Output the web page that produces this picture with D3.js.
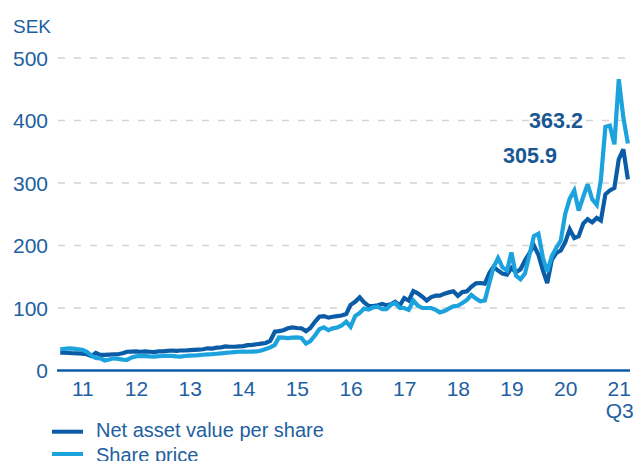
<!DOCTYPE html>
<html>
<head>
<meta charset="utf-8">
<script src="https://cdn.jsdelivr.net/npm/d3@7"></script>
<style>
  html, body { margin: 0; padding: 0; background: #ffffff; }
  svg { display: block; }
  text { font-family: "Liberation Sans", Arial, sans-serif; }
</style>
</head>
<body>
<script>
// ---- Data (monthly, Feb 2011 – Sep 2021) ----
const firstMonth = [2011, 1]; // year, month index (0 = Jan) of first point
const navValues = [
  28.7, 28.5, 28, 27.6, 27.5, 27, 26, 23, 28, 25,
  25, 25.5, 26, 26, 27.5, 30, 30.3, 30.5, 30, 30.5,
  30, 29.5, 30.5, 30.5, 31.5, 32, 31.5, 32, 32, 32.5,
  33, 33.5, 34, 35.5, 35, 36.5, 37, 38.5, 38, 38,
  38.5, 39, 40.5, 41, 42, 43, 44, 47.5, 62, 63,
  64.5, 67.5, 69, 68, 67.5, 63, 68, 78, 86, 87,
  84.5, 86, 87, 88, 90.5, 105, 110, 117, 109, 103.5,
  103, 104.5, 106.5, 104.5, 106, 110, 104, 116, 112, 127,
  123.5, 118, 112, 117.5, 119.8, 119.8, 123, 125, 126.7, 119.5,
  125.5, 126.7, 134, 139.5, 140, 139, 156, 166, 160, 155,
  153.5, 164, 157, 162, 176, 188, 200, 185, 160, 140,
  177, 188, 192, 205, 226, 212, 215, 235, 242, 237,
  244, 240, 282, 288, 292, 338, 354, 305.9
];
const priceValues = [
  34, 34.5, 35.5, 35, 34, 33, 30, 24, 20, 19.5,
  16, 17.5, 19.5, 18.5, 17.5, 17, 21, 22.5, 23.5, 23,
  22.5, 22.3, 22.8, 23.2, 23.5, 23.4, 22.5, 22.3, 23.2, 23.8,
  24, 24.5, 25.2, 25.8, 26.2, 26.8, 27.5, 28.2, 28.8, 29.5,
  30, 30.3, 30, 30.3, 30.5, 32, 34.5, 37, 41, 53,
  52.5, 51.7, 52.5, 53, 52, 43, 47, 56, 66, 69,
  64.5, 67.5, 68.8, 72, 78, 70, 87, 92, 99, 97.5,
  101, 102, 98, 98, 105, 108, 100, 100, 97, 112,
  104, 100, 100, 100, 97, 93, 95, 99, 102.6, 103.5,
  108, 113, 121, 115, 110.6, 112, 140, 165, 180, 165,
  160, 189, 152, 146, 155, 185, 215, 219, 180, 158,
  183, 196, 208, 250, 275, 288, 256, 278, 298, 274,
  265, 305, 390, 392, 362, 466, 405, 363.2
];
const yTicks = [0, 100, 200, 300, 400, 500];
const yearTicks = [2011, 2012, 2013, 2014, 2015, 2016, 2017, 2018, 2019, 2020, 2021];
const lastPeriodLabel = "Q3";
const unitLabel = "SEK";
const seriesNames = ["Net asset value per share", "Share price"];
const endLabels = ["305.9", "363.2"];

// ---- Styles ----
const W = 634, H = 461;
const darkBlue = "#0b5ca6";
const lightBlue = "#1ca2dc";
const textBlue = "#22609f";
const labelBlue = "#1a5792";

const svg = d3.select("body").append("svg").attr("width", W).attr("height", H);

const dates = navValues.map((_, i) => new Date(firstMonth[0], firstMonth[1] + i, 1));

const x = d3.scaleTime()
  .domain([new Date(2011, 0, 1), new Date(2022, 0, 1)])
  .range([55.7, 645.8]);
const y = d3.scaleLinear().domain([0, 500]).range([370.5, 58]);

// grid lines
svg.append("g").selectAll("line")
  .data(yTicks.filter(d => d > 0))
  .join("line")
  .attr("x1", 58).attr("x2", 632)
  .attr("y1", d => y(d)).attr("y2", d => y(d))
  .attr("stroke", "#d4d4d4").attr("stroke-width", 1.4)
  .attr("stroke-dasharray", "7,9");

// y labels
svg.append("g").selectAll("text")
  .data(yTicks)
  .join("text")
  .attr("x", 48).attr("y", d => y(d) + 7.5)
  .attr("text-anchor", "end")
  .attr("font-size", 21)
  .attr("fill", textBlue)
  .text(d => d);

svg.append("text")
  .attr("x", 13).attr("y", 33)
  .attr("font-size", 19)
  .attr("fill", textBlue)
  .text(unitLabel);

// lines
const line = vals => d3.line()
  .x((d, i) => x(dates[i]))
  .y(d => y(d))
  .curve(d3.curveLinear)(vals);

svg.append("path").attr("d", line(navValues))
  .attr("fill", "none").attr("stroke", darkBlue)
  .attr("stroke-width", 4.2).attr("stroke-linejoin", "miter").attr("stroke-miterlimit", 3);
svg.append("path").attr("d", line(priceValues))
  .attr("fill", "none").attr("stroke", lightBlue)
  .attr("stroke-width", 4.2).attr("stroke-linejoin", "miter").attr("stroke-miterlimit", 3);

// x axis
svg.append("line")
  .attr("x1", 57).attr("x2", 630)
  .attr("y1", y(0)).attr("y2", y(0))
  .attr("stroke", darkBlue).attr("stroke-width", 2.4);

const xAxis = d3.axisBottom(x)
  .tickValues(yearTicks.map(yr => new Date(yr, 6, 1)))
  .tickFormat(d3.timeFormat("%y"))
  .tickSize(0).tickPadding(0);
const gx = svg.append("g").attr("transform", `translate(0,${y(0) + 11})`).call(xAxis);
gx.select(".domain").remove();
gx.selectAll("text")
  .attr("font-size", 21)
  .attr("font-family", "Liberation Sans, Arial, sans-serif")
  .attr("fill", textBlue);

svg.append("text")
  .attr("x", x(new Date(yearTicks[yearTicks.length - 1], 6, 1)) + 1)
  .attr("y", 418)
  .attr("text-anchor", "middle")
  .attr("font-size", 21)
  .attr("fill", textBlue)
  .text(lastPeriodLabel);

// end labels
const lastDate = dates[dates.length - 1];
const lastX = x(lastDate);
svg.append("text")
  .attr("x", lastX - 71).attr("y", y(navValues[navValues.length - 1]) - 16)
  .attr("text-anchor", "end").attr("font-size", 21.5).attr("font-weight", "bold")
  .attr("fill", labelBlue).text(endLabels[0]);
svg.append("text")
  .attr("x", lastX - 45).attr("y", y(priceValues[priceValues.length - 1]) - 15.5)
  .attr("text-anchor", "end").attr("font-size", 21.5).attr("font-weight", "bold")
  .attr("fill", labelBlue).text(endLabels[1]);

// legend
const legend = svg.append("g");
[[darkBlue, 431.7], [lightBlue, 454]].forEach(([c, ly], k) => {
  legend.append("line")
    .attr("x1", 52).attr("x2", 83).attr("y1", ly).attr("y2", ly)
    .attr("stroke", c).attr("stroke-width", 4);
  legend.append("text")
    .attr("x", 96).attr("y", ly + 5 + (k === 1 ? 3 : 0))
    .attr("font-size", 20).attr("fill", textBlue)
    .text(seriesNames[k]);
});
</script>
</body>
</html>
